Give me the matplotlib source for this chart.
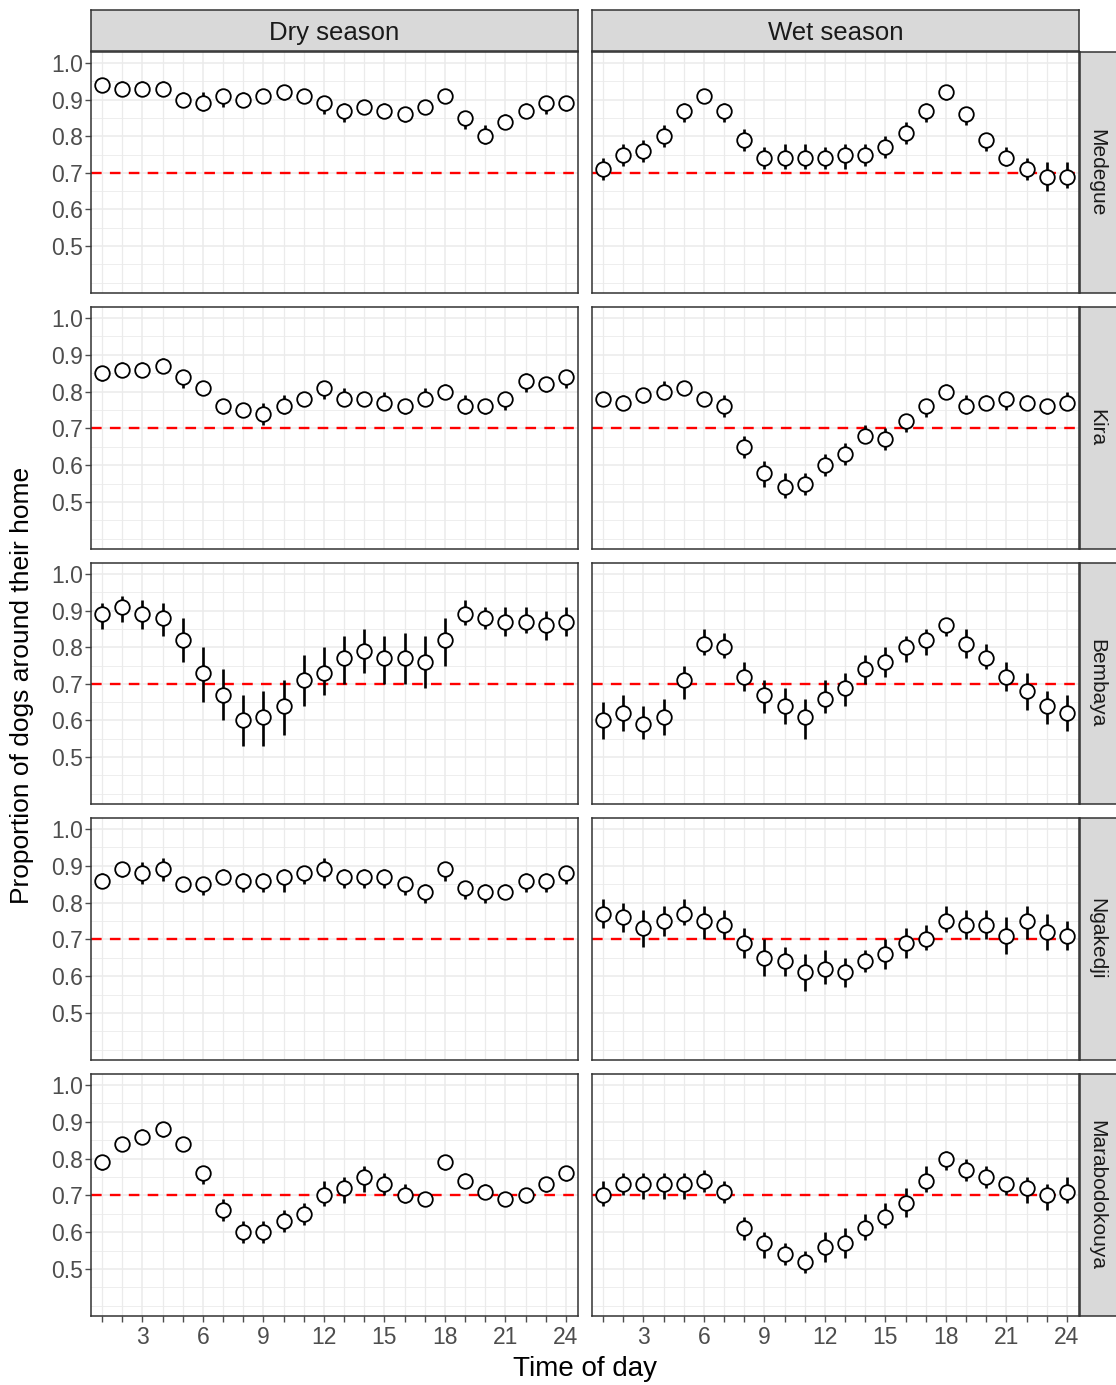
import matplotlib
matplotlib.use("Agg")
import matplotlib.pyplot as plt
import numpy as np

plt.rcParams['font.family'] = ['Liberation Sans', 'DejaVu Sans']

hours = list(range(1, 25))
villages = ["Medegue", "Kira", "Bembaya", "Ngakedji", "Marabodokouya"]
seasons = ["Dry season", "Wet season"]
y_ticks = [0.5, 0.6, 0.7, 0.8, 0.9, 1.0]
y_tick_labels = ["0.5", "0.6", "0.7", "0.8", "0.9", "1.0"]
x_tick_labels = {3: "3", 6: "6", 9: "9", 12: "12", 15: "15", 18: "18", 21: "21", 24: "24"}
threshold = 0.7

# --- Medegue ---
medegue_dry = [0.94,0.93,0.93,0.93,0.90,0.89,0.91,0.90,0.91,0.92,0.91,0.89,0.87,0.88,0.87,0.86,0.88,0.91,0.85,0.80,0.84,0.87,0.89,0.89]
medegue_dry_lo = [0.92,0.91,0.91,0.91,0.88,0.87,0.88,0.88,0.89,0.90,0.89,0.86,0.84,0.86,0.85,0.84,0.86,0.89,0.82,0.78,0.82,0.85,0.86,0.87]
medegue_dry_hi = [0.96,0.95,0.95,0.95,0.92,0.92,0.93,0.92,0.93,0.94,0.93,0.91,0.89,0.90,0.89,0.88,0.90,0.93,0.87,0.83,0.86,0.89,0.91,0.91]
medegue_wet = [0.71,0.75,0.76,0.80,0.87,0.91,0.87,0.79,0.74,0.74,0.74,0.74,0.75,0.75,0.77,0.81,0.87,0.92,0.86,0.79,0.74,0.71,0.69,0.69]
medegue_wet_lo = [0.68,0.72,0.73,0.77,0.84,0.89,0.84,0.76,0.71,0.71,0.71,0.71,0.71,0.72,0.74,0.78,0.84,0.90,0.83,0.76,0.72,0.68,0.65,0.66]
medegue_wet_hi = [0.74,0.78,0.79,0.83,0.89,0.93,0.89,0.82,0.77,0.78,0.78,0.77,0.78,0.78,0.80,0.84,0.89,0.935,0.88,0.81,0.77,0.74,0.73,0.73]

# --- Kira ---
kira_dry = [0.85,0.86,0.86,0.87,0.84,0.81,0.76,0.75,0.74,0.76,0.78,0.81,0.78,0.78,0.77,0.76,0.78,0.80,0.76,0.76,0.78,0.83,0.82,0.84]
kira_dry_lo = [0.83,0.84,0.84,0.85,0.81,0.79,0.74,0.73,0.71,0.74,0.76,0.78,0.76,0.76,0.75,0.74,0.76,0.78,0.74,0.74,0.75,0.80,0.80,0.81]
kira_dry_hi = [0.87,0.88,0.88,0.89,0.86,0.83,0.78,0.77,0.77,0.79,0.80,0.83,0.81,0.80,0.80,0.78,0.81,0.82,0.79,0.78,0.80,0.85,0.84,0.86]
kira_wet = [0.78,0.77,0.79,0.80,0.81,0.78,0.76,0.65,0.58,0.54,0.55,0.60,0.63,0.68,0.67,0.72,0.76,0.80,0.76,0.77,0.78,0.77,0.76,0.77]
kira_wet_lo = [0.76,0.75,0.77,0.78,0.79,0.76,0.73,0.62,0.54,0.51,0.52,0.57,0.60,0.66,0.64,0.69,0.73,0.785,0.74,0.75,0.75,0.75,0.74,0.75]
kira_wet_hi = [0.80,0.79,0.81,0.83,0.83,0.80,0.79,0.68,0.61,0.58,0.58,0.63,0.66,0.71,0.70,0.74,0.78,0.82,0.79,0.79,0.80,0.79,0.78,0.80]

# --- Bembaya ---
bembaya_dry = [0.89,0.91,0.89,0.88,0.82,0.73,0.67,0.60,0.61,0.64,0.71,0.73,0.77,0.79,0.77,0.77,0.76,0.82,0.89,0.88,0.87,0.87,0.86,0.87]
bembaya_dry_lo = [0.85,0.87,0.85,0.83,0.76,0.65,0.60,0.53,0.53,0.56,0.64,0.67,0.70,0.73,0.70,0.70,0.69,0.75,0.86,0.85,0.83,0.84,0.82,0.83]
bembaya_dry_hi = [0.92,0.94,0.93,0.92,0.88,0.80,0.74,0.67,0.68,0.71,0.78,0.80,0.83,0.85,0.83,0.84,0.83,0.88,0.93,0.91,0.91,0.91,0.90,0.91]
bembaya_wet = [0.60,0.62,0.59,0.61,0.71,0.81,0.80,0.72,0.67,0.64,0.61,0.66,0.69,0.74,0.76,0.80,0.82,0.86,0.81,0.77,0.72,0.68,0.64,0.62]
bembaya_wet_lo = [0.55,0.57,0.55,0.56,0.66,0.78,0.77,0.68,0.62,0.59,0.55,0.62,0.64,0.70,0.72,0.76,0.78,0.83,0.77,0.74,0.68,0.63,0.59,0.57]
bembaya_wet_hi = [0.65,0.67,0.64,0.66,0.75,0.85,0.84,0.76,0.71,0.69,0.66,0.71,0.73,0.78,0.80,0.83,0.85,0.88,0.85,0.81,0.76,0.73,0.68,0.67]

# --- Ngakedji ---
ngakedji_dry = [0.86,0.89,0.88,0.89,0.85,0.85,0.87,0.86,0.86,0.87,0.88,0.89,0.87,0.87,0.87,0.85,0.83,0.89,0.84,0.83,0.83,0.86,0.86,0.88]
ngakedji_dry_lo = [0.84,0.87,0.85,0.86,0.83,0.82,0.85,0.83,0.83,0.83,0.85,0.86,0.84,0.84,0.84,0.82,0.80,0.86,0.81,0.80,0.81,0.83,0.83,0.85]
ngakedji_dry_hi = [0.88,0.91,0.91,0.92,0.87,0.87,0.89,0.88,0.88,0.89,0.90,0.92,0.89,0.89,0.89,0.87,0.85,0.91,0.86,0.85,0.85,0.88,0.88,0.90]
ngakedji_wet = [0.77,0.76,0.73,0.75,0.77,0.75,0.74,0.69,0.65,0.64,0.61,0.62,0.61,0.64,0.66,0.69,0.70,0.75,0.74,0.74,0.71,0.75,0.72,0.71]
ngakedji_wet_lo = [0.73,0.72,0.68,0.71,0.74,0.70,0.70,0.65,0.60,0.60,0.56,0.58,0.57,0.61,0.62,0.65,0.67,0.72,0.70,0.70,0.66,0.70,0.67,0.67]
ngakedji_wet_hi = [0.81,0.80,0.78,0.79,0.81,0.79,0.78,0.73,0.70,0.68,0.66,0.67,0.65,0.67,0.70,0.73,0.74,0.79,0.78,0.78,0.76,0.79,0.77,0.75]

# --- Marabodokouya ---
marabo_dry = [0.79,0.84,0.86,0.88,0.84,0.76,0.66,0.60,0.60,0.63,0.65,0.70,0.72,0.75,0.73,0.70,0.69,0.79,0.74,0.71,0.69,0.70,0.73,0.76]
marabo_dry_lo = [0.77,0.82,0.84,0.86,0.82,0.73,0.63,0.57,0.57,0.60,0.62,0.67,0.68,0.71,0.70,0.68,0.675,0.77,0.72,0.69,0.67,0.68,0.71,0.74]
marabo_dry_hi = [0.81,0.86,0.88,0.90,0.86,0.78,0.69,0.63,0.63,0.66,0.68,0.74,0.75,0.78,0.76,0.73,0.71,0.81,0.76,0.73,0.71,0.72,0.75,0.78]
marabo_wet = [0.70,0.73,0.73,0.73,0.73,0.74,0.71,0.61,0.57,0.54,0.52,0.56,0.57,0.61,0.64,0.68,0.74,0.80,0.77,0.75,0.73,0.72,0.70,0.71]
marabo_wet_lo = [0.67,0.70,0.69,0.69,0.69,0.71,0.68,0.58,0.53,0.51,0.49,0.52,0.53,0.58,0.61,0.64,0.71,0.77,0.74,0.72,0.70,0.68,0.66,0.68]
marabo_wet_hi = [0.74,0.76,0.76,0.76,0.76,0.77,0.74,0.64,0.60,0.57,0.55,0.60,0.61,0.65,0.68,0.72,0.78,0.82,0.80,0.78,0.75,0.75,0.73,0.75]

panels = {
    ("Medegue", "Dry season"): (medegue_dry, medegue_dry_lo, medegue_dry_hi),
    ("Medegue", "Wet season"): (medegue_wet, medegue_wet_lo, medegue_wet_hi),
    ("Kira", "Dry season"): (kira_dry, kira_dry_lo, kira_dry_hi),
    ("Kira", "Wet season"): (kira_wet, kira_wet_lo, kira_wet_hi),
    ("Bembaya", "Dry season"): (bembaya_dry, bembaya_dry_lo, bembaya_dry_hi),
    ("Bembaya", "Wet season"): (bembaya_wet, bembaya_wet_lo, bembaya_wet_hi),
    ("Ngakedji", "Dry season"): (ngakedji_dry, ngakedji_dry_lo, ngakedji_dry_hi),
    ("Ngakedji", "Wet season"): (ngakedji_wet, ngakedji_wet_lo, ngakedji_wet_hi),
    ("Marabodokouya", "Dry season"): (marabo_dry, marabo_dry_lo, marabo_dry_hi),
    ("Marabodokouya", "Wet season"): (marabo_wet, marabo_wet_lo, marabo_wet_hi),
}

W, H = 1116, 1385
DPI = 100
fig = plt.figure(figsize=(W / DPI, H / DPI), dpi=DPI)
fig.patch.set_facecolor("white")

def rect(l, t, r, b):
    return [l / W, 1 - b / H, (r - l) / W, (b - t) / H]

col_x = [(91, 578), (592, 1079)]
row_y = [(52, 293), (307, 549), (563, 804), (818, 1060), (1074, 1316)]
strip_top = (10, 51)
strip_right = (1080, 1118)

BORDER = "#333333"
GRID = "#EBEBEB"
TICKCOL = "#4D4D4D"

for ri, village in enumerate(villages):
    for ci, season in enumerate(seasons):
        l, r = col_x[ci]
        t, b = row_y[ri]
        ax = fig.add_axes(rect(l, t, r, b))
        val, lo, hi = panels[(village, season)]
        val = np.array(val); lo = np.array(lo); hi = np.array(hi)
        ax.set_xlim(0.45, 24.6)
        ax.set_ylim(0.372, 1.03)
        # grid
        for yv in np.arange(0.40, 1.001, 0.05):
            major = any(abs(yv - m) < 1e-6 for m in y_ticks)
            ax.axhline(yv, color=GRID, lw=1.1 if major else 0.6, zorder=0)
        for xv in hours:
            ax.axvline(xv, color=GRID, lw=1.1 if xv % 3 == 0 else 0.9, zorder=0)
        ax.axhline(threshold, color="red", lw=1.7, ls=(0, (4.5, 3.5)), zorder=1)
        ax.vlines(hours, lo, hi, color="black", lw=1.9, zorder=2)
        ax.plot(hours, val, "o", ms=10.5, mfc="white", mec="black", mew=1.3, zorder=3)
        for sp in ax.spines.values():
            sp.set_color(BORDER)
            sp.set_linewidth(1.1)
        ax.set_yticks(y_ticks)
        ax.set_xticks(hours)
        ax.tick_params(axis="both", colors=TICKCOL, length=4, width=1.0, labelsize=16.5, labelcolor=TICKCOL)
        ax.tick_params(axis="y", pad=2)
        ax.tick_params(axis="x", pad=3.5)
        if ci == 0:
            ax.set_yticklabels(y_tick_labels)
        else:
            ax.tick_params(axis="y", left=False, labelleft=False)
        if ri == len(villages) - 1:
            ax.set_xticklabels([x_tick_labels.get(h, "") for h in hours])
        else:
            ax.tick_params(axis="x", bottom=False, labelbottom=False)
        ax.set_facecolor("white")

# top strips
for ci, season in enumerate(seasons):
    l, r = col_x[ci]
    sax = fig.add_axes(rect(l, strip_top[0], r, strip_top[1]))
    sax.set_facecolor("#D9D9D9")
    sax.set_xticks([]); sax.set_yticks([])
    for sp in sax.spines.values():
        sp.set_color(BORDER); sp.set_linewidth(1.1)
    sax.text(0.5, 0.45, season, ha="center", va="center", fontsize=18.5, color="#1A1A1A",
             transform=sax.transAxes)

# right strips
for ri, village in enumerate(villages):
    t, b = row_y[ri]
    sax = fig.add_axes(rect(strip_right[0], t, strip_right[1], b))
    sax.set_facecolor("#D9D9D9")
    sax.set_xticks([]); sax.set_yticks([])
    for sp in sax.spines.values():
        sp.set_color(BORDER); sp.set_linewidth(1.1)
    sax.text(0.45, 0.5, village, ha="center", va="center", rotation=-90, fontsize=15,
             color="#1A1A1A", transform=sax.transAxes)

fig.text(585 / W, 1 - 1369 / H, "Time of day", ha="center", va="center", fontsize=20, color="black")
fig.text(22 / W, 1 - 685 / H, "Proportion of dogs around their home", ha="center", va="center",
         rotation=90, fontsize=19, color="black")

fig.savefig("out.png", dpi=DPI, facecolor="white")
